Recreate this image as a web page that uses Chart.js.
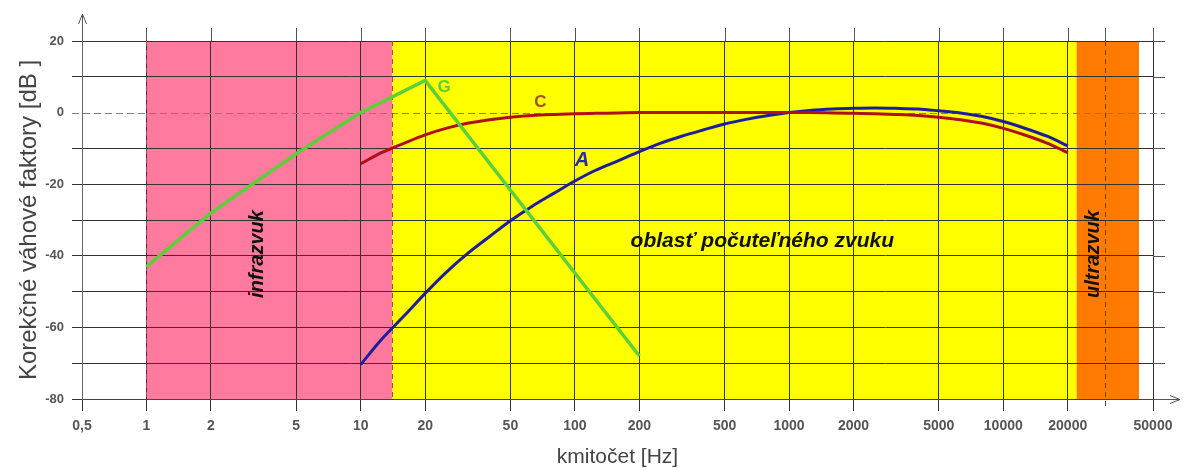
<!DOCTYPE html>
<html lang="sk">
<head>
<meta charset="UTF-8">
<title>Korekčné váhové faktory</title>
<style>
    body { margin: 0; background: #fff; }
    #wrap { width: 1187px; height: 470px; }
</style>
<script src="https://cdn.jsdelivr.net/npm/chart.js"></script>
</head>
<body>
<div id="wrap"><canvas id="chart"></canvas></div>
<script>
// x axis ticks [Hz]
const xTicks = [0.5, 1, 2, 5, 10, 20, 50, 100, 200, 500, 1000, 2000, 5000, 10000, 20000, 50000];
const xTickLabels = ['0,5', '1', '2', '5', '10', '20', '50', '100', '200', '500', '1000', '2000', '5000', '10000', '20000', '50000'];

// A and C weighting curves (third-octave points)
const freqAC = [10, 12.5, 16, 20, 25, 31.5, 40, 50, 63, 80, 100, 125, 160, 200, 250, 315, 400, 500, 630, 800,
    1000, 1250, 1600, 2000, 2500, 3150, 4000, 5000, 6300, 8000, 10000, 12500, 16000, 20000];
const gainA = [-70.4, -63.4, -56.7, -50.5, -44.7, -39.4, -34.6, -30.2, -26.2, -22.5, -19.1, -16.1, -13.4, -10.9, -8.6, -6.6, -4.8, -3.2, -1.9, -0.8,
    0, 0.6, 1.0, 1.2, 1.3, 1.2, 1.0, 0.5, -0.1, -1.1, -2.5, -4.3, -6.6, -9.3];
const gainC = [-14.3, -11.2, -8.5, -6.2, -4.4, -3.0, -2.0, -1.3, -0.8, -0.5, -0.3, -0.2, -0.1, 0, 0, 0, 0, 0, 0, 0,
    0, 0, -0.1, -0.2, -0.3, -0.5, -0.8, -1.3, -2.0, -3.0, -4.4, -6.2, -8.5, -11.2];

// G weighting
const freqG = [1, 2, 5, 10, 20, 200];
const gainG = [-43, -28, -11.5, 0, 9, -68];

// frequency regions
const bandNames = ['infrazvuk', 'oblasť počuteľného zvuku', 'ultrazvuk'];
const bandFrom = [1, 14, 22000];
const bandTo = [14, 22000, 43000];

// --- look ---
const bandColors = ['#ff7a9e', '#ffff00', '#ff7a00'];
const bandTextPos = [[3.3, -39.5, true], [750, -36, false], [26500, -39.5, true]];
const curveLabels = [
    { text: 'G', x: 24.5, y: 7, color: '#5ccf3a', font: 'bold 17px "Liberation Sans", Arial' },
    { text: 'C', x: 69, y: 2.8, color: '#a8501a', font: 'bold 17px "Liberation Sans", Arial' },
    { text: 'A', x: 108, y: -13.4, color: '#2a2aa8', font: 'italic bold 20px "Liberation Sans", Arial' }
];

const pts = (xs, ys) => xs.map((v, i) => ({ x: v, y: ys[i] }));

const decor = {
    id: 'decor',
    beforeDraw(chart) {
        const { ctx, chartArea: a, scales: { x } } = chart;
        ctx.save();
        bandFrom.forEach((f, i) => {
            const x0 = x.getPixelForValue(f), x1 = x.getPixelForValue(bandTo[i]);
            ctx.fillStyle = bandColors[i];
            ctx.fillRect(x0, a.top, x1 - x0, a.bottom - a.top);
        });
        ctx.restore();
    },
    beforeDatasetsDraw(chart) {
        const { ctx, chartArea: a, scales: { x, y } } = chart;
        ctx.save();
        ctx.lineWidth = 1;
        // stubs above the plot and right of it
        ctx.strokeStyle = '#555';
        ctx.beginPath();
        xTicks.concat([30000]).forEach(v => {
            const px = Math.round(x.getPixelForValue(v)) + 0.5;
            ctx.moveTo(px, a.top - 13);
            ctx.lineTo(px, a.top);
        });
        y.ticks.forEach(t => {
            if (t.value === 0) return;
            const py = Math.round(y.getPixelForValue(t.value)) + 0.5;
            ctx.moveTo(a.right, py);
            ctx.lineTo(a.right + 12, py);
        });
        ctx.stroke();
        // dashed zero line
        ctx.setLineDash([7, 4]);
        ctx.strokeStyle = '#8a7a70';
        const p0 = Math.round(y.getPixelForValue(0)) + 0.5;
        ctx.beginPath();
        ctx.moveTo(a.left - 10, p0);
        ctx.lineTo(a.right + 12, p0);
        ctx.stroke();
        // dashed region edges
        ctx.setLineDash([5, 4]);
        ctx.strokeStyle = '#b04060';
        [1, 14].forEach(v => {
            const px = Math.round(x.getPixelForValue(v)) + 0.5;
            ctx.beginPath();
            ctx.moveTo(px, a.top);
            ctx.lineTo(px, a.bottom);
            ctx.stroke();
        });
        ctx.strokeStyle = '#7a3a10';
        const pu = Math.round(x.getPixelForValue(30000)) + 0.5;
        ctx.beginPath();
        ctx.moveTo(pu, a.top);
        ctx.lineTo(pu, a.bottom + 10);
        ctx.stroke();
        ctx.restore();
    },
    afterDatasetsDraw(chart) {
        const { ctx, chartArea: a, scales: { x, y } } = chart;
        ctx.save();
        // region names
        ctx.fillStyle = '#111';
        ctx.textAlign = 'center';
        ctx.textBaseline = 'middle';
        bandNames.forEach((name, i) => {
            const [fx, fy, rot] = bandTextPos[i];
            ctx.font = 'italic bold ' + (rot ? 20 : 21) + 'px "Liberation Sans", Arial';
            ctx.save();
            ctx.translate(x.getPixelForValue(fx), y.getPixelForValue(fy));
            if (rot) ctx.rotate(-Math.PI / 2);
            ctx.fillText(name, 0, 0);
            ctx.restore();
        });
        // curve names
        curveLabels.forEach(l => {
            ctx.fillStyle = l.color;
            ctx.font = l.font;
            ctx.fillText(l.text, x.getPixelForValue(l.x), y.getPixelForValue(l.y));
        });
        // axis arrows
        ctx.strokeStyle = '#555';
        ctx.lineWidth = 1;
        ctx.beginPath();
        ctx.moveTo(a.left + 0.5, a.top);
        ctx.lineTo(a.left + 0.5, a.top - 27);
        ctx.moveTo(a.left - 3.5, a.top - 17);
        ctx.lineTo(a.left + 0.5, a.top - 27);
        ctx.lineTo(a.left + 4.5, a.top - 17);
        ctx.moveTo(a.right, a.bottom + 0.5);
        ctx.lineTo(a.right + 27, a.bottom + 0.5);
        ctx.moveTo(a.right + 17, a.bottom - 3.5);
        ctx.lineTo(a.right + 27, a.bottom + 0.5);
        ctx.lineTo(a.right + 17, a.bottom + 4.5);
        ctx.stroke();
        ctx.restore();
    }
};

new Chart(document.getElementById('chart'), {
    type: 'line',
    data: {
        datasets: [
            { label: 'G', data: pts(freqG, gainG), borderColor: '#5ccf3a', borderWidth: 3.5, tension: 0 },
            { label: 'C', data: pts(freqAC, gainC), borderColor: '#b0101a', borderWidth: 3, cubicInterpolationMode: 'monotone' },
            { label: 'A', data: pts(freqAC, gainA), borderColor: '#1e1e9a', borderWidth: 3, cubicInterpolationMode: 'monotone' }
        ]
    },
    options: {
        responsive: true,
        maintainAspectRatio: false,
        animation: false,
        layout: { padding: { top: 41, right: 34, left: 0, bottom: 0 } },
        elements: { point: { radius: 0 } },
        plugins: { legend: { display: false }, tooltip: { enabled: false } },
        scales: {
            x: {
                type: 'logarithmic',
                min: 0.5,
                max: 50000,
                afterBuildTicks: s => { s.ticks = xTicks.map(v => ({ value: v })); },
                afterFit: s => { s.height = 71; },
                ticks: {
                    autoSkip: false,
                    maxRotation: 0,
                    padding: 7,
                    color: '#555',
                    font: { family: '"Liberation Sans", Arial', size: 14, weight: 'bold' },
                    callback: (v, i) => xTickLabels[i]
                },
                grid: { color: '#333', tickLength: 12 },
                border: { color: '#444' },
                title: {
                    display: true,
                    text: 'kmitočet [Hz]',
                    color: '#444',
                    font: { family: '"Liberation Sans", Arial', size: 21 },
                    padding: { top: 0, bottom: 0 }
                }
            },
            y: {
                min: -80,
                max: 20,
                afterFit: s => { s.width = 82; },
                ticks: {
                    stepSize: 10,
                    padding: 8,
                    color: '#555',
                    font: { family: '"Liberation Sans", Arial', size: 13, weight: 'bold' },
                    callback: v => (v % 20 === 0 ? String(v) : '')
                },
                grid: {
                    color: c => (c.tick && c.tick.value === 0 ? 'rgba(0,0,0,0)' : '#333'),
                    tickLength: 10
                },
                border: { color: '#666' },
                title: {
                    display: true,
                    text: 'Korekčné váhové faktory [dB ]',
                    color: '#444',
                    font: { family: '"Liberation Sans", Arial', size: 24 },
                    padding: { top: 15, bottom: 0 }
                }
            }
        }
    },
    plugins: [decor]
});
</script>
</body>
</html>
